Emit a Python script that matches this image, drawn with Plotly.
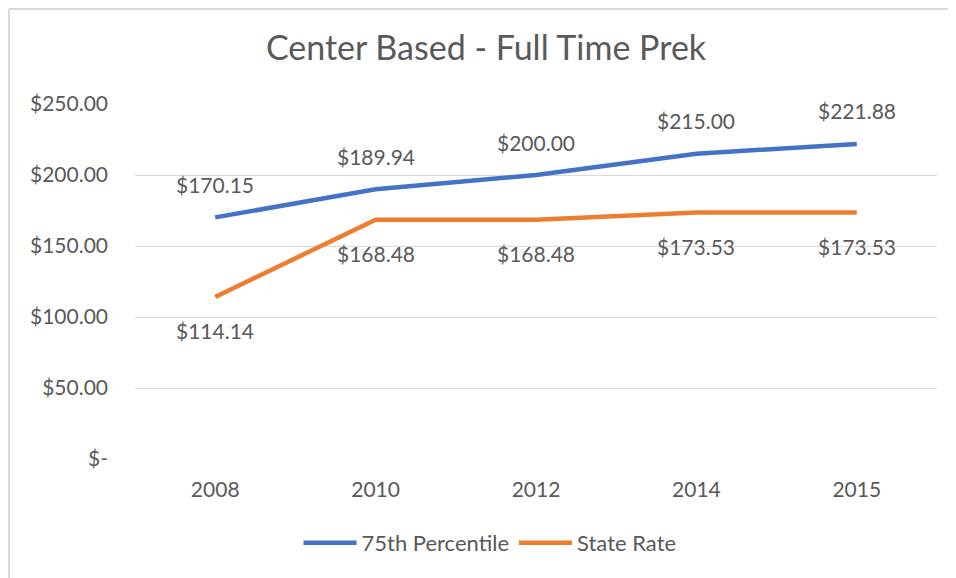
import plotly.graph_objects as go

years = ["2008", "2010", "2012", "2014", "2015"]
p75 = [170.15, 189.94, 200.00, 215.00, 221.88]
state = [114.14, 168.48, 168.48, 173.53, 173.53]
ytick_vals = [0, 50, 100, 150, 200, 250]
ytick_text = ["$-", "$50.00", "$100.00", "$150.00", "$200.00", "$250.00"]

FONT = "Lato"
TXT = "#595959"
LBL = 21

fig = go.Figure()
fig.add_trace(go.Scatter(
    x=years, y=p75, name="75th Percentile", mode="lines",
    line=dict(color="#4472C4", width=4.5),
))
fig.add_trace(go.Scatter(
    x=years, y=state, name="State Rate", mode="lines",
    line=dict(color="#ED7D31", width=4.5),
))

annotations = []
for i, v in enumerate(p75):
    annotations.append(dict(x=i, y=v, xref="x", yref="y", text=f"${v:,.2f}",
                            showarrow=False, yshift=33, yanchor="middle",
                            font=dict(family=FONT, size=LBL, color=TXT)))
for i, v in enumerate(state):
    annotations.append(dict(x=i, y=v, xref="x", yref="y", text=f"${v:,.2f}",
                            showarrow=False, yshift=-34, yanchor="middle",
                            font=dict(family=FONT, size=LBL, color=TXT)))

# page body has an 8px margin; compensate so the picture lines up
OFF = 8
W, H = 956 - OFF, 578 - OFF
L, R = 135 - OFF, 19
T, B = 104 - OFF, 119
pw = W - L - R
ph = H - T - B

def px_x(x):
    return (x - OFF - L) / pw

def px_y(y):
    return (H - B - (y - OFF)) / ph

fig.update_layout(
    width=W, height=H,
    margin=dict(l=L, r=R, t=T, b=B),
    paper_bgcolor="white", plot_bgcolor="white",
    font=dict(family=FONT, color=TXT, size=LBL),
    title=dict(text="Center Based - Full Time Prek", x=(486 - OFF) / W, xanchor="center",
               y=1 - (48 - OFF) / H, yanchor="middle",
               font=dict(family=FONT, size=34, color=TXT)),
    xaxis=dict(type="category", categoryorder="array", categoryarray=years,
               range=[-0.5, len(years) - 0.5],
               showgrid=False, showline=False, zeroline=False,
               ticks="", tickfont=dict(family=FONT, size=LBL, color=TXT),
               ticklabelstandoff=16),
    yaxis=dict(range=[0, 250], tickvals=ytick_vals, ticktext=ytick_text,
               showgrid=True, gridcolor="#D9D9D9", gridwidth=1.3,
               zeroline=False, showline=False, ticks="",
               tickfont=dict(family=FONT, size=LBL, color=TXT),
               ticklabelstandoff=26),
    showlegend=True,
    legend=dict(orientation="h", x=px_x(490), xanchor="center",
                y=px_y(543), yanchor="middle",
                font=dict(family=FONT, size=22, color=TXT),
                itemwidth=53, bgcolor="rgba(0,0,0,0)"),
    annotations=annotations,
    shapes=[
        dict(type="line", xref="paper", yref="paper", x0=px_x(OFF + 1), x1=px_x(OFF + 1),
             y0=px_y(OFF + 1), y1=px_y(590), line=dict(color="#D9D9D9", width=2)),
        dict(type="line", xref="paper", yref="paper", x0=px_x(OFF + 1), x1=px_x(970),
             y0=px_y(OFF + 1), y1=px_y(OFF + 1), line=dict(color="#D9D9D9", width=2)),
    ],
)
fig.write_html("out.html")
